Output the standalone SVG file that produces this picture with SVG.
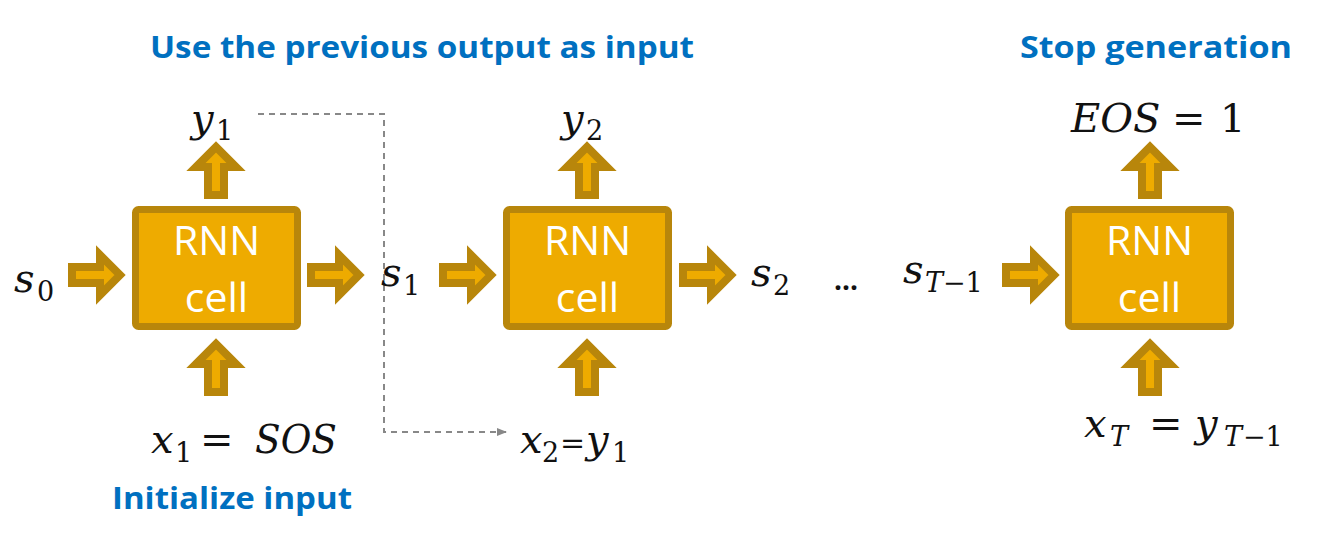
<svg xmlns="http://www.w3.org/2000/svg" width="1322" height="546" viewBox="0 0 1322 546">
<style>
.box{fill:#EEAB00;stroke:#B8860B;stroke-width:7;}
.arr{fill:#EEAB00;stroke:#B8860B;stroke-width:8;stroke-linejoin:miter;stroke-miterlimit:10;}
.cell{font-family:"Open Sans","Noto Sans",sans-serif;font-size:41px;fill:#FFFFFF;text-anchor:middle;}
.m{font-family:"DejaVu Serif","Liberation Serif",serif;font-style:italic;font-size:40px;fill:#111;}
.sub{font-size:27px;}
.up{font-style:normal;}
.title{font-family:"Open Sans","Noto Sans",sans-serif;font-weight:bold;font-size:31px;fill:#0070C0;}
.dash{fill:none;stroke:#888;stroke-width:2;stroke-dasharray:6 5;}
</style>
<defs>
<path id="ba" class="arr" d="M4,-8 H32 V-20 L52,0 L32,20 V8 H4 Z"/>
<marker id="ah" markerWidth="10" markerHeight="10" refX="9" refY="5" orient="auto" markerUnits="userSpaceOnUse">
<path d="M0,1 L10,5 L0,9 Z" fill="#888"/>
</marker>
</defs>

<g id="connectors">
<path class="dash" d="M258,114 H384 V432 H506" marker-end="url(#ah)"/>
<use href="#ba" transform="translate(68,275)"/>
<use href="#ba" transform="translate(307,275)"/>
<use href="#ba" transform="translate(439,275)"/>
<use href="#ba" transform="translate(679,275)"/>
<use href="#ba" transform="translate(1002,275)"/>
<use href="#ba" transform="translate(216,199) rotate(-90)"/>
<use href="#ba" transform="translate(216,396) rotate(-90)"/>
<use href="#ba" transform="translate(587,199) rotate(-90)"/>
<use href="#ba" transform="translate(587,396) rotate(-90)"/>
<use href="#ba" transform="translate(1150,199) rotate(-90)"/>
<use href="#ba" transform="translate(1150,396) rotate(-90)"/>
</g>

<g id="cell1">
<rect class="box" x="135.5" y="209.5" width="162" height="117" rx="3"/>
<text class="cell" x="216.5" y="255">RNN</text>
<text class="cell" x="216.5" y="312">cell</text>
</g>
<g id="cell2">
<rect class="box" x="506.5" y="209.5" width="162" height="117" rx="3"/>
<text class="cell" x="587.5" y="255">RNN</text>
<text class="cell" x="587.5" y="312">cell</text>
</g>
<g id="cell3">
<rect class="box" x="1068.5" y="209.5" width="162" height="117" rx="3"/>
<text class="cell" x="1149.5" y="255">RNN</text>
<text class="cell" x="1149.5" y="312">cell</text>
</g>

<g id="labels">
<text class="m" x="14" y="292">s<tspan class="sub up" x="37" y="301">0</tspan></text>
<text class="m" x="191" y="132">y<tspan class="sub up" x="216" y="140">1</tspan></text>
<text class="m" x="381" y="286">s<tspan class="sub up" x="403" y="295">1</tspan></text>
<text class="m" x="561" y="132">y<tspan class="sub up" x="586" y="140">2</tspan></text>
<text class="m" x="751" y="286">s<tspan class="sub up" x="773" y="295">2</tspan></text>
<text x="834" y="290" style="font-family:'Open Sans','Noto Sans',sans-serif;font-weight:bold;font-size:28px;fill:#111">...</text>
<text class="m" x="903" y="283">s<tspan class="sub" x="925" y="292">T</tspan><tspan class="sub up" x="943" y="292">−1</tspan></text>
<text class="m" x="1071" y="132">EOS<tspan class="up" x="1172">=</tspan><tspan class="up" x="1220">1</tspan></text>
<text class="m" x="151" y="453">x<tspan class="sub up" x="175" y="462">1</tspan><tspan class="up" x="200" y="453">=</tspan><tspan x="255" y="453" textLength="82" lengthAdjust="spacingAndGlyphs">SOS</tspan></text>
<text class="m" x="520" y="453">x<tspan class="sub up" x="542" y="462">2</tspan><tspan class="up" x="560" y="453" style="font-size:30px">=</tspan><tspan x="586" y="453">y</tspan><tspan class="sub up" x="612" y="462">1</tspan></text>
<text class="m" x="1084" y="437">x<tspan class="sub" x="1110" y="446">T</tspan><tspan class="up" x="1149" y="437">=</tspan><tspan x="1195" y="437">y</tspan><tspan class="sub" x="1224" y="446">T</tspan><tspan class="sub up" x="1243" y="446">−1</tspan></text>
</g>

<g id="titles">
<text class="title" x="150" y="58" textLength="544" lengthAdjust="spacingAndGlyphs">Use the previous output as input</text>
<text class="title" x="1020" y="58" textLength="272" lengthAdjust="spacingAndGlyphs">Stop generation</text>
<text class="title" x="112" y="509" textLength="240" lengthAdjust="spacingAndGlyphs">Initialize input</text>
</g>
</svg>
